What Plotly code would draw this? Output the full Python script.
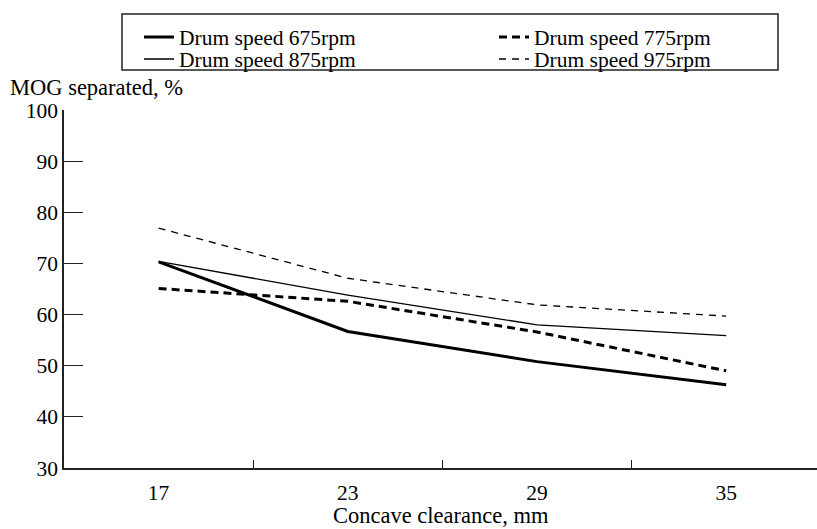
import plotly.graph_objects as go

clearance = ["17", "23", "29", "35"]
speed_675 = [70.3, 56.7, 50.8, 46.3]
speed_775 = [65.1, 62.6, 56.6, 49.0]
speed_875 = [70.4, 63.8, 58.0, 55.9]
speed_975 = [76.9, 67.1, 61.9, 59.7]
names = ["Drum speed 675rpm", "Drum speed 775rpm", "Drum speed 875rpm", "Drum speed 975rpm"]

W, H = 817, 529
L, R, T, B = 64, 0, 110, 61
PW, PH = W - L - R, H - T - B

def px(x):
    return (x - L) / PW

def py(y):
    return (H - B - y) / PH

FONT = "Liberation Serif, Times New Roman, serif"
FS_LEG = 21.5
FS_TICK = 21.5
FS_TITLE = 22.5

styles = [
    dict(width=3, dash="solid"),
    dict(width=3, dash="8px,5px"),
    dict(width=1.3, dash="solid"),
    dict(width=1.3, dash="7px,6px"),
]
series = [speed_675, speed_775, speed_875, speed_975]
legend_ids = ["legend", "legend2", "legend3", "legend4"]

fig = go.Figure()
for s, nm, st, lg in zip(series, names, styles, legend_ids):
    fig.add_trace(go.Scatter(
        x=clearance, y=s, name=nm, mode="lines",
        line=dict(color="black", width=st["width"], dash=st["dash"]),
        legend=lg,
    ))

leg_common = dict(font=dict(family=FONT, size=FS_LEG, color="black"),
                  bgcolor="rgba(0,0,0,0)", borderwidth=0,
                  xanchor="left", yanchor="middle", orientation="v")
leg_pos = {
    "legend": (139, 37),
    "legend2": (494, 37),
    "legend3": (139, 59),
    "legend4": (494, 59),
}
layout_legends = {k: dict(x=px(v[0]), y=py(v[1]), **leg_common) for k, v in leg_pos.items()}

fig.update_layout(
    width=W, height=H,
    margin=dict(l=L, r=R, t=T, b=B, autoexpand=False),
    paper_bgcolor="white", plot_bgcolor="white",
    font=dict(family=FONT, size=FS_TICK, color="black"),
    showlegend=True,
    **layout_legends,
    xaxis=dict(
        type="category", range=[-0.5, 3.48],
        showline=True, linecolor="#222", linewidth=1.5,
        ticks="inside", ticklen=8, tickwidth=1.2, tickcolor="#222",
        tickson="boundaries", showgrid=False, zeroline=False,
        tickfont=dict(family=FONT, size=FS_TICK),
        ticklabelstandoff=4,
    ),
    yaxis=dict(
        range=[30, 100], dtick=10,
        showline=True, linecolor="#222", linewidth=1.5,
        ticks="inside", ticklen=19, tickwidth=1.2, tickcolor="#222",
        showgrid=False, zeroline=False,
        tickfont=dict(family=FONT, size=FS_TICK),
    ),
    shapes=[dict(type="rect", xref="paper", yref="paper",
                 x0=px(122), x1=px(778), y0=py(70), y1=py(14),
                 line=dict(color="#222", width=1.5))],
    annotations=[
        dict(text="MOG separated, %", xref="paper", yref="paper",
             x=px(8), y=py(87), xanchor="left", yanchor="middle",
             showarrow=False, font=dict(family=FONT, size=FS_TITLE)),
        dict(text="Concave clearance, mm", xref="paper", yref="paper",
             x=px(441), y=py(515), xanchor="center", yanchor="middle",
             showarrow=False, font=dict(family=FONT, size=FS_TITLE)),
    ],
)

fig.write_html("out.html", config={"displayModeBar": False},
               post_script="document.body.style.margin='0';")
